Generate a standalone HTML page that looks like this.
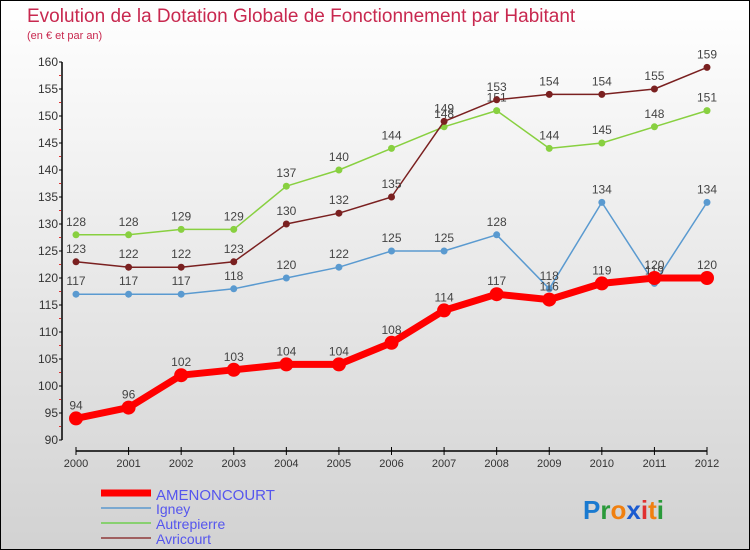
<!DOCTYPE html>
<html><head><meta charset="utf-8"><style>
body{margin:0}
#c{width:750px;height:550px;position:relative;box-sizing:border-box;border:1px solid #000;background:linear-gradient(#ffffff,#d2d2d2);font-family:"Liberation Sans",sans-serif;overflow:hidden}
</style></head><body>
<div id="c">
<svg id="s" width="748" height="548" xmlns="http://www.w3.org/2000/svg" style="position:absolute;left:0;top:0">
<text x="26" y="21" font-size="19" fill="#c8284f">Evolution de la Dotation Globale de Fonctionnement par Habitant</text>
<text x="26" y="38" font-size="11" fill="#c8284f">(en € et par an)</text>
<g id="g"></g>
<g>
<line x1="100" y1="492" x2="150" y2="492" stroke="#f00" stroke-width="7"/>
<text x="155" y="499" font-size="15" fill="#5555ee">AMENONCOURT</text>
<line x1="100" y1="507" x2="150" y2="507" stroke="#7aa8d0" stroke-width="2"/>
<text x="155" y="513" font-size="14" fill="#5555ee">Igney</text>
<line x1="100" y1="522" x2="150" y2="522" stroke="#88d070" stroke-width="2"/>
<text x="155" y="528" font-size="14" fill="#5555ee">Autrepierre</text>
<line x1="100" y1="537" x2="150" y2="537" stroke="#a06060" stroke-width="2"/>
<text x="155" y="543" font-size="14" fill="#5555ee">Avricourt</text>
</g>
<text x="582" y="518" font-size="26" font-weight="bold"><tspan fill="#1a7ad0">P</tspan><tspan fill="#2a9a3a">r</tspan><tspan fill="#f08010">o</tspan><tspan fill="#1a5ad0">x</tspan><tspan fill="#e03030">i</tspan><tspan fill="#f08010">t</tspan><tspan fill="#2a9a3a">i</tspan></text>
</svg>
</div>
<script>
const years=[2000,2001,2002,2003,2004,2005,2006,2007,2008,2009,2010,2011,2012];
const amenoncourt=[94,96,102,103,104,104,108,114,117,116,119,120,120];
const igney=[117,117,117,118,120,122,125,125,128,118,134,119,134];
const autrepierre=[128,128,129,129,137,140,144,148,151,144,145,148,151];
const avricourt=[123,122,122,123,130,132,135,149,153,154,154,155,159];
const yTicks=[90,95,100,105,110,115,120,125,130,135,140,145,150,155,160];
const NS="http://www.w3.org/2000/svg";
const g=document.getElementById('g');
const X=i=>75+i*(706-75)/(years.length-1);
const Y=v=>439-(v-90)*(439-61)/70;
function el(t,a,name){const e=document.createElementNS(NS,t);for(const k in a)e.setAttribute(k,a[k]);


g.appendChild(e);return e;}
el('line',{x1:61,y1:Y(160),x2:61,y2:Y(90),stroke:'#000','stroke-width':1.5},'y-axis');
yTicks.forEach((v,k)=>{el('line',{x1:58,y1:Y(v),x2:61,y2:Y(v),stroke:'#000'},'y-tick');
if(k<yTicks.length-1) el('line',{x1:58,y1:Y(v+2.5),x2:60,y2:Y(v+2.5),stroke:'#e03030'},'y-minor-tick');
const t=el('text',{x:57,y:Y(v)+4,'font-size':12,fill:'#333','text-anchor':'end'},'y-tick-label');t.textContent=v;});
el('line',{x1:X(0),y1:450,x2:X(12),y2:450,stroke:'#000','stroke-width':1.5},'x-axis');
years.forEach((y,i)=>{el('line',{x1:X(i),y1:446,x2:X(i),y2:454,stroke:'#000'},'x-tick');
const t=el('text',{x:X(i),y:466,'font-size':11,fill:'#333','text-anchor':'middle'},'x-tick-label');t.textContent=y;});
function series(d,col,w,r,name){
el('polyline',{points:d.map((v,i)=>X(i)+','+Y(v)).join(' '),fill:'none',stroke:col,'stroke-width':w,'stroke-linejoin':'round'},name+'-line');
d.forEach((v,i)=>{el('circle',{cx:X(i),cy:Y(v),r:r,fill:col},name+'-point');
const t=el('text',{x:X(i),y:Y(v)-9,'font-size':12,fill:'#444','text-anchor':'middle'},name+'-value-label');t.textContent=v;});}
series(igney,'#5a9ad0',1.5,3.5,'igney');
series(autrepierre,'#88d040',1.5,3.5,'autrepierre');
series(avricourt,'#7a2020',1.5,3.5,'avricourt');
series(amenoncourt,'#f00',7,7,'amenoncourt');
</script>
</body></html>
